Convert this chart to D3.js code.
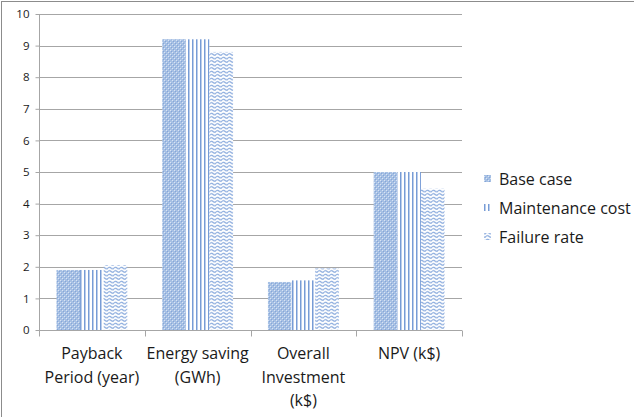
<!DOCTYPE html>
<html>
<head>
<meta charset="utf-8">
<script src="https://cdn.jsdelivr.net/npm/d3@7.9.0/dist/d3.min.js"></script>
<style>
  body { margin: 0; background: #fff; }
  text { font-family: "Open Sans", Lato, sans-serif; fill: #1a1a1a; }
</style>
</head>
<body>
<svg id="chart" width="634" height="417"></svg>
<script>
// data
const categories = [
  ["Payback", "Period (year)"],
  ["Energy saving", "(GWh)"],
  ["Overall", "Investment", "(k$)"],
  ["NPV (k$)"]
];
const seriesNames = ["Base case", "Maintenance cost", "Failure rate"];
const baseCase = [1.9, 9.2, 1.52, 5.0];
const maintenanceCost = [1.9, 9.2, 1.57, 5.0];
const failureRate = [2.05, 8.8, 1.95, 4.47];
const yTicks = [0, 1, 2, 3, 4, 5, 6, 7, 8, 9, 10];

const seriesValues = [baseCase, maintenanceCost, failureRate];
const patternIds = ["pBase", "pMaint", "pFail"];

let svg = d3.select('#chart');

// chart border (top + left visible)
svg.append('line').attr('x1', 1).attr('x2', 634).attr('y1', 1.5).attr('y2', 1.5)
  .attr('stroke', '#8c8c8c').attr('stroke-width', 1);
svg.append('line').attr('x1', 1.5).attr('x2', 1.5).attr('y1', 1).attr('y2', 417)
  .attr('stroke', '#8c8c8c').attr('stroke-width', 1);

// fill patterns
let defs = svg.append('defs');
let pb = defs.append('pattern').attr('id', 'pBase').attr('patternUnits', 'userSpaceOnUse')
  .attr('width', 4).attr('height', 4);
pb.append('rect').attr('width', 4).attr('height', 4).attr('fill', '#a6c0e4');
pb.append('rect').attr('x', 0).attr('y', 0).attr('width', 1).attr('height', 1).attr('fill', '#d9e4f4');
pb.append('rect').attr('x', 2).attr('y', 2).attr('width', 1).attr('height', 1).attr('fill', '#d9e4f4');
pb.append('rect').attr('x', 1).attr('y', 1).attr('width', 1).attr('height', 1).attr('fill', '#86a6d8');
pb.append('rect').attr('x', 3).attr('y', 3).attr('width', 1).attr('height', 1).attr('fill', '#86a6d8');

let pm = defs.append('pattern').attr('id', 'pMaint').attr('patternUnits', 'userSpaceOnUse')
  .attr('width', 4).attr('height', 4);
pm.append('rect').attr('width', 4).attr('height', 4).attr('fill', '#fff');
pm.append('rect').attr('x', 0).attr('width', 1.5).attr('height', 4).attr('fill', '#779cd6');

let pf = defs.append('pattern').attr('id', 'pFail').attr('patternUnits', 'userSpaceOnUse')
  .attr('width', 6).attr('height', 3.5);
pf.append('rect').attr('width', 6).attr('height', 3.5).attr('fill', '#fff');
pf.append('path').attr('d', 'M0,2 Q1.5,0.4 3,2 T6,2').attr('fill', 'none')
  .attr('stroke', '#7fa3da').attr('stroke-width', 1.1);

// scales
let x0 = d3.scaleBand().domain(d3.range(categories.length)).range([39, 462])
  .paddingInner(0.33).paddingOuter(0.165);
let x1 = d3.scaleBand().domain(d3.range(seriesNames.length)).range([0, x0.bandwidth()]);
let y = d3.scaleLinear().domain([0, 10]).range([330, 14]);

// gridlines
svg.append('g').selectAll('line').data(yTicks.filter(d => d > 0)).join('line')
  .attr('x1', 39).attr('x2', 462)
  .attr('y1', d => Math.round(y(d)) + 0.5).attr('y2', d => Math.round(y(d)) + 0.5)
  .attr('stroke', '#a6a6a6').attr('stroke-width', 1);

// bars
categories.forEach((c, ci) => {
  seriesValues.forEach((vals, si) => {
    svg.append('rect')
      .attr('x', x0(ci) + x1(si))
      .attr('y', y(vals[ci]))
      .attr('width', x1.bandwidth())
      .attr('height', y(0) - y(vals[ci]))
      .attr('fill', `url(#${patternIds[si]})`);
  });
});

// y axis
let yAxis = d3.axisLeft(y).tickValues(yTicks).tickSize(4).tickPadding(6).tickFormat(d3.format('d'));
let gy = svg.append('g').attr('transform', 'translate(39.5,0)').call(yAxis);
gy.select('.domain').attr('stroke', '#a6a6a6').attr('d', `M0,${y(10)}V${y(0)}`);
gy.selectAll('.tick line').attr('stroke', '#a6a6a6');
gy.selectAll('.tick text').style('font-size', '11.5px').style('font-family', '"Open Sans", sans-serif').style('fill', '#1a1a1a');

// x axis
let gx = svg.append('g').attr('transform', 'translate(0,330.5)');
gx.append('line').attr('x1', 39).attr('x2', 462).attr('stroke', '#a6a6a6');
let tickXs = d3.range(categories.length + 1).map(i => 39 + i * x0.step());
gx.selectAll('.xt').data(tickXs).join('line').attr('class', 'xt')
  .attr('x1', d => Math.round(d) + 0.5).attr('x2', d => Math.round(d) + 0.5)
  .attr('y1', 0).attr('y2', 6).attr('stroke', '#a6a6a6');

categories.forEach((lines, ci) => {
  let t = svg.append('text').attr('text-anchor', 'middle')
    .attr('x', x0(ci) + x0.bandwidth() / 2).attr('y', 359)
    .style('font-size', '16px');
  lines.forEach((ln, li) => {
    t.append('tspan').attr('x', x0(ci) + x0.bandwidth() / 2).attr('dy', li === 0 ? 0 : 23.5).text(ln);
  });
});

// legend
let legend = svg.append('g');
seriesNames.forEach((name, si) => {
  let ly = 179 + si * 29;
  legend.append('rect').attr('x', 484).attr('y', ly - 4).attr('width', 7).attr('height', 7)
    .attr('fill', `url(#${patternIds[si]})`);
  legend.append('text').attr('x', 499).attr('y', ly + 6).style('font-size', '16px').text(name);
});
</script>
</body>
</html>
